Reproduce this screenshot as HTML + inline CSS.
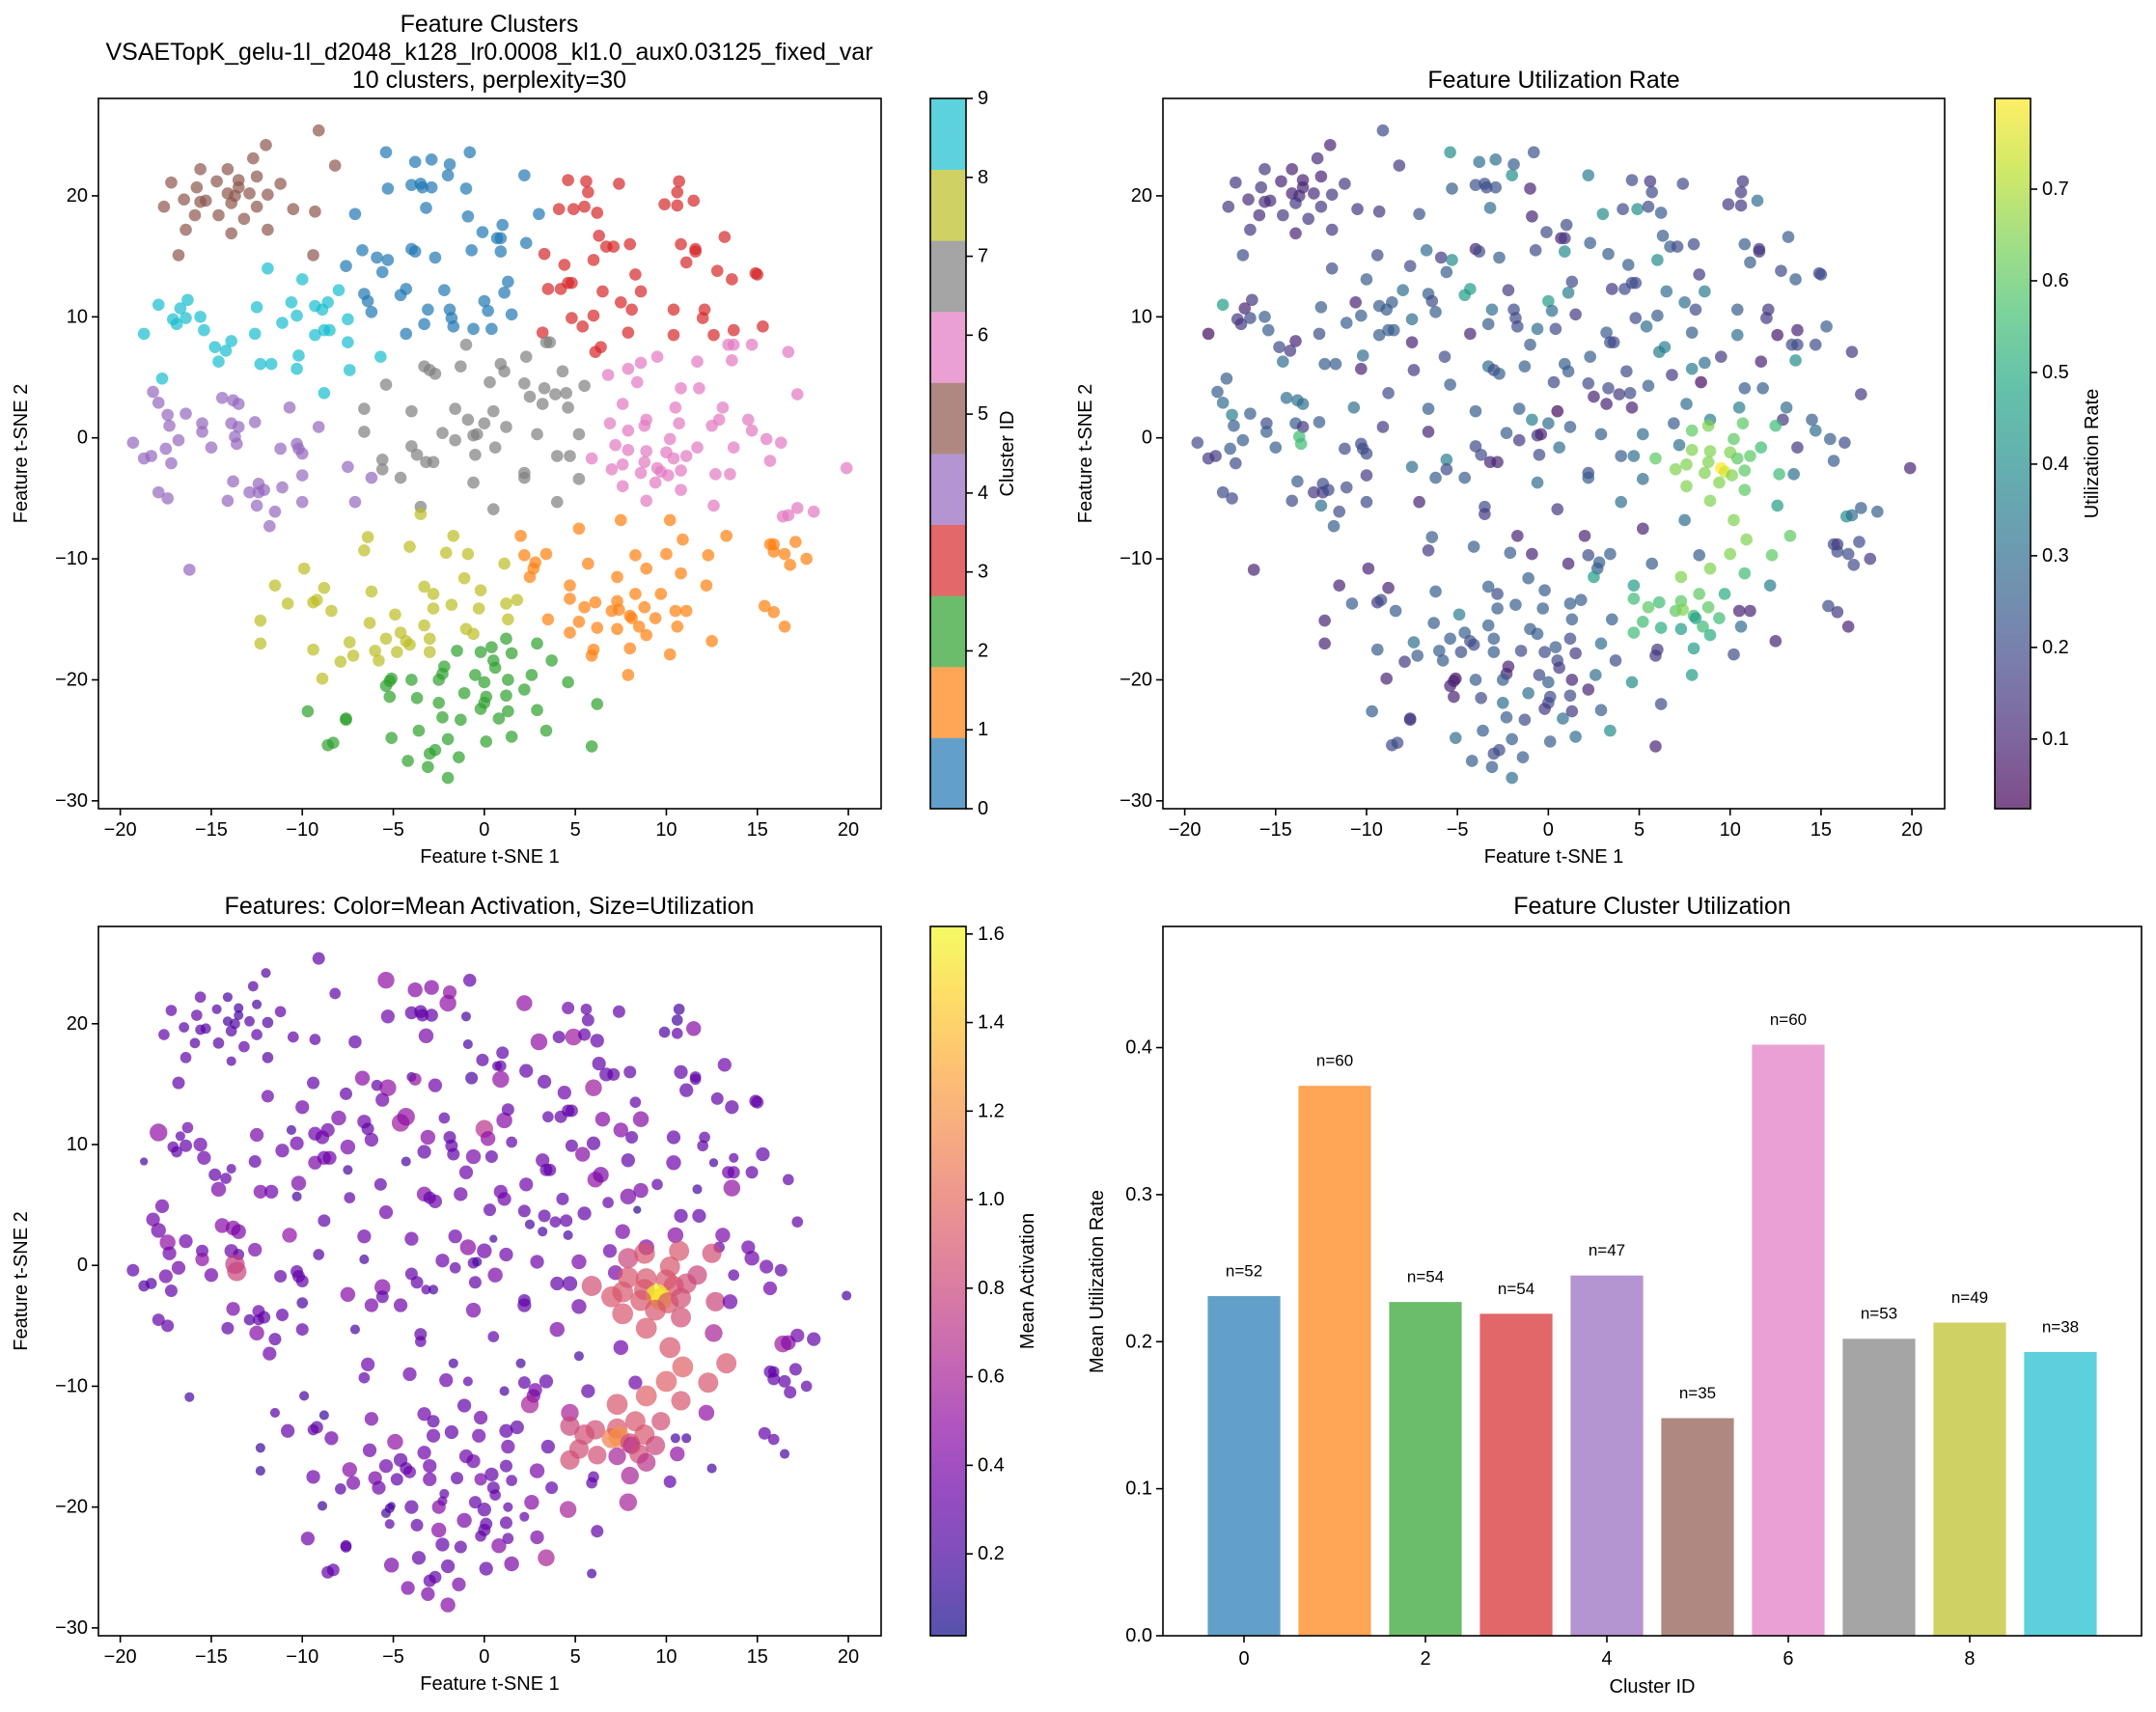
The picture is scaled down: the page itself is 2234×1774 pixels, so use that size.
<!DOCTYPE html>
<html><head><meta charset="utf-8"><style>
html,body{margin:0;padding:0;background:#fff}
svg{display:block;font-family:"Liberation Sans","DejaVu Sans",sans-serif}
</style></head><body>
<svg id="fig" width="2234" height="1774" viewBox="0 0 2234 1774" xmlns="http://www.w3.org/2000/svg"></svg>
<script>
// ---- data: [tsneX, tsneY, utilization, meanActivation] per cluster ----
const cluster0Points=[[-5.4,23.6,0.4,0.5],[-3.8,22.8,0.3,0.45],[-2.9,23.0,0.3,0.45],[-1.9,22.6,0.25,0.5],[-0.8,23.6,0.22,0.3],[-5.3,20.6,0.25,0.35],[-4.0,20.9,0.22,0.3],[-3.5,21.0,0.22,0.3],[-3.4,20.7,0.2,0.3],[-2.9,20.7,0.22,0.3],[-2.0,21.7,0.4,0.5],[-1.0,20.6,0.1,0.2],[-3.2,19.0,0.3,0.4],[-7.1,18.5,0.22,0.3],[-0.9,18.3,0.1,0.2],[2.2,21.7,0.35,0.5],[3.0,18.5,0.4,0.5],[-0.1,17.0,0.2,0.3],[0.7,16.5,0.1,0.3],[0.9,16.5,0.15,0.3],[1.0,17.6,0.2,0.3],[2.3,16.1,0.25,0.3],[-0.7,15.5,0.2,0.2],[0.9,15.4,0.4,0.5],[-2.7,14.9,0.25,0.35],[-4.0,15.6,0.1,0.2],[-3.8,15.4,0.2,0.5],[-6.7,15.5,0.3,0.45],[-7.6,14.2,0.2,0.3],[-5.9,14.9,0.15,0.3],[-5.3,14.7,0.4,0.5],[-5.6,13.7,0.25,0.35],[-6.6,11.9,0.25,0.35],[-6.4,11.3,0.2,0.3],[-6.2,10.4,0.25,0.35],[-4.6,11.8,0.45,0.55],[-4.3,12.3,0.45,0.5],[-2.2,12.2,0.15,0.3],[-3.1,10.6,0.3,0.45],[-1.9,10.6,0.2,0.3],[-1.8,9.9,0.2,0.3],[-1.7,9.2,0.2,0.3],[-4.3,8.6,0.1,0.2],[-3.3,9.4,0.25,0.3],[-0.6,9.0,0.3,0.4],[0.0,11.3,0.45,0.7],[0.2,10.5,0.3,0.5],[0.4,9.0,0.2,0.3],[1.1,12.0,0.35,0.45],[1.3,12.9,0.2,0.3],[1.5,10.2,0.15,0.3]];
const cluster1Points=[[5.2,-7.5,0.1,0.2],[7.5,-6.8,0.3,0.35],[10.2,-6.8,0.65,0.9],[2.0,-8.1,0.1,0.2],[10.9,-8.4,0.65,0.95],[13.3,-8.1,0.6,0.9],[2.2,-9.7,0.2,0.3],[2.8,-10.3,0.25,0.4],[2.7,-10.8,0.25,0.4],[3.4,-9.6,0.25,0.3],[2.5,-11.5,0.45,0.6],[5.7,-10.4,0.25,0.3],[8.3,-9.7,0.25,0.35],[10.0,-9.6,0.65,0.95],[8.9,-10.8,0.65,0.95],[10.8,-11.2,0.55,0.9],[12.3,-9.7,0.6,0.9],[7.3,-11.5,0.65,0.9],[4.7,-12.2,0.45,0.6],[12.2,-12.2,0.35,0.5],[15.7,-8.8,0.2,0.3],[15.9,-8.8,0.15,0.3],[15.9,-9.4,0.2,0.3],[16.5,-9.6,0.2,0.3],[16.8,-10.5,0.2,0.3],[17.1,-8.6,0.2,0.3],[17.7,-10.0,0.15,0.3],[4.7,-13.3,0.55,0.8],[5.5,-14.0,0.6,0.85],[6.1,-13.6,0.55,0.85],[7.0,-14.3,0.6,1.1],[7.3,-13.5,0.6,0.9],[7.4,-14.2,0.65,1.2],[8.3,-12.9,0.6,0.9],[8.0,-14.7,0.55,0.8],[8.1,-14.9,0.45,0.7],[8.8,-14.0,0.6,0.9],[8.5,-15.6,0.55,0.85],[9.4,-14.9,0.55,0.8],[9.7,-12.9,0.5,0.85],[10.5,-14.3,0.1,0.2],[11.1,-14.3,0.1,0.2],[3.5,-15.0,0.25,0.3],[5.2,-15.2,0.55,0.85],[4.7,-16.1,0.55,0.85],[6.2,-15.7,0.5,0.85],[7.3,-15.8,0.45,0.6],[8.9,-16.3,0.5,0.7],[10.6,-15.6,0.3,0.5],[12.5,-16.8,0.1,0.2],[6.0,-17.5,0.15,0.3],[5.9,-18.0,0.15,0.3],[8.0,-17.4,0.45,0.6],[10.2,-17.9,0.2,0.3],[7.9,-19.6,0.45,0.6],[15.4,-13.9,0.2,0.3],[15.9,-14.4,0.15,0.3],[16.5,-15.6,0.1,0.2]];
const cluster2Points=[[-1.5,-17.6,0.2,0.3],[-0.2,-17.7,0.2,0.4],[0.4,-17.3,0.25,0.3],[1.2,-16.6,0.2,0.3],[1.5,-17.8,0.15,0.3],[2.9,-17.0,0.3,0.4],[3.7,-18.4,0.2,0.3],[0.5,-18.4,0.2,0.3],[0.6,-19.0,0.15,0.3],[-2.2,-18.9,0.1,0.3],[-2.3,-19.5,0.1,0.3],[-2.5,-20.0,0.25,0.45],[-4.0,-20.0,0.25,0.3],[-5.1,-19.9,0.05,0.2],[-5.2,-20.1,0.1,0.2],[-5.4,-20.5,0.1,0.2],[-5.2,-21.4,0.1,0.3],[-3.7,-21.5,0.2,0.3],[-0.5,-19.6,0.2,0.3],[0.0,-20.2,0.25,0.3],[1.3,-20.0,0.1,0.3],[2.6,-19.6,0.3,0.45],[2.2,-20.8,0.1,0.3],[4.6,-20.2,0.4,0.6],[-2.5,-21.9,0.3,0.45],[-1.1,-21.1,0.3,0.4],[0.1,-21.4,0.2,0.3],[0.0,-21.9,0.2,0.3],[-0.2,-22.4,0.15,0.3],[1.2,-21.3,0.2,0.3],[1.3,-22.6,0.15,0.3],[0.8,-23.2,0.3,0.45],[2.9,-22.5,0.25,0.4],[-2.3,-23.1,0.25,0.3],[-1.3,-23.3,0.2,0.3],[-9.7,-22.6,0.25,0.35],[-7.6,-23.2,0.15,0.3],[-7.6,-23.3,0.15,0.3],[-8.6,-25.4,0.2,0.3],[-8.3,-25.2,0.2,0.3],[-5.1,-24.8,0.3,0.4],[-3.6,-24.2,0.25,0.3],[-2.0,-24.9,0.25,0.3],[0.1,-25.1,0.25,0.3],[1.5,-24.7,0.3,0.4],[3.4,-24.2,0.4,0.6],[6.2,-22.0,0.2,0.3],[5.9,-25.5,0.1,0.2],[-4.2,-26.7,0.25,0.4],[-3.0,-26.1,0.2,0.3],[-2.7,-25.8,0.2,0.3],[-3.1,-27.2,0.25,0.4],[-1.4,-26.4,0.25,0.4],[-2.0,-28.1,0.3,0.45]];
const cluster3Points=[[4.6,21.3,0.2,0.35],[5.6,21.2,0.15,0.3],[5.7,20.3,0.2,0.3],[7.4,21.0,0.2,0.3],[10.7,21.2,0.15,0.2],[10.6,20.3,0.15,0.2],[9.9,19.3,0.15,0.2],[10.6,19.2,0.15,0.3],[11.5,19.6,0.3,0.45],[4.1,18.9,0.2,0.3],[4.9,18.9,0.4,0.55],[5.5,19.1,0.2,0.3],[6.2,18.6,0.25,0.3],[6.3,16.7,0.25,0.3],[6.7,15.8,0.25,0.3],[7.1,15.8,0.2,0.3],[8.0,16.0,0.2,0.3],[6.0,14.7,0.4,0.55],[3.3,15.2,0.25,0.3],[4.4,14.3,0.25,0.35],[10.8,16.0,0.25,0.3],[11.6,15.6,0.15,0.3],[11.6,15.4,0.15,0.3],[11.1,14.5,0.25,0.3],[13.2,16.6,0.25,0.35],[12.8,13.8,0.2,0.3],[13.6,13.1,0.25,0.3],[14.9,13.6,0.2,0.3],[15.0,13.5,0.2,0.3],[8.3,13.5,0.15,0.3],[3.5,12.3,0.15,0.3],[4.2,12.3,0.2,0.3],[4.6,12.8,0.2,0.3],[4.8,12.8,0.2,0.3],[6.5,12.1,0.3,0.45],[7.5,11.2,0.3,0.45],[8.6,12.1,0.35,0.45],[8.1,10.6,0.2,0.3],[4.8,9.9,0.2,0.3],[5.4,9.2,0.3,0.45],[6.0,10.1,0.25,0.3],[3.2,8.7,0.25,0.35],[6.1,7.1,0.35,0.5],[6.4,7.5,0.35,0.4],[7.9,8.7,0.25,0.3],[10.4,10.6,0.25,0.3],[12.1,10.6,0.15,0.3],[12.0,9.9,0.15,0.3],[10.4,8.5,0.3,0.35],[12.6,8.5,0.08,0.2],[13.7,8.9,0.1,0.3],[15.3,9.2,0.25,0.3]];
const cluster4Points=[[-18.2,3.8,0.25,0.35],[-17.9,2.9,0.3,0.35],[-16.4,2.0,0.25,0.35],[-17.4,1.9,0.35,0.5],[-17.3,1.0,0.25,0.35],[-19.3,-0.4,0.2,0.3],[-18.7,-1.7,0.15,0.25],[-18.3,-1.5,0.15,0.25],[-17.5,-0.9,0.25,0.35],[-17.2,-2.1,0.2,0.3],[-16.8,-0.2,0.25,0.35],[-17.9,-4.5,0.2,0.3],[-17.4,-5.0,0.2,0.3],[-15.5,1.2,0.2,0.3],[-15.5,0.5,0.25,0.5],[-15.0,-0.8,0.25,0.35],[-14.4,3.3,0.3,0.45],[-13.8,3.1,0.3,0.45],[-13.5,2.8,0.3,0.4],[-13.9,1.2,0.25,0.35],[-13.5,0.9,0.15,0.3],[-13.7,0.1,0.55,0.75],[-13.6,-0.5,0.55,0.8],[-12.6,1.3,0.25,0.4],[-13.8,-3.6,0.25,0.4],[-14.1,-5.2,0.2,0.3],[-12.9,-4.5,0.15,0.25],[-12.4,-3.8,0.2,0.35],[-12.4,-4.5,0.15,0.3],[-12.1,-4.3,0.2,0.3],[-12.5,-5.6,0.3,0.45],[-11.8,-7.3,0.25,0.35],[-11.5,-6.1,0.2,0.3],[-11.1,-4.1,0.2,0.3],[-11.2,-0.9,0.2,0.3],[-10.7,2.5,0.3,0.5],[-10.3,-0.5,0.2,0.3],[-10.2,-0.9,0.2,0.3],[-10.0,-1.3,0.2,0.3],[-10.0,-3.1,0.15,0.2],[-10.0,-5.3,0.2,0.3],[-9.1,0.9,0.15,0.25],[-16.2,-10.9,0.1,0.2],[-7.5,-2.4,0.3,0.45],[-6.2,-3.3,0.25,0.4],[-7.1,-5.3,0.1,0.2]];
const cluster5Points=[[-17.2,21.1,0.15,0.3],[-17.6,19.1,0.15,0.3],[-16.5,19.7,0.12,0.25],[-16.8,15.1,0.2,0.3],[-16.4,17.2,0.15,0.3],[-15.9,18.4,0.12,0.25],[-15.8,20.7,0.15,0.3],[-15.6,22.2,0.15,0.3],[-15.6,19.5,0.12,0.25],[-15.3,19.6,0.12,0.25],[-14.7,21.2,0.1,0.25],[-14.6,18.4,0.15,0.25],[-14.1,22.2,0.1,0.2],[-14.1,20.2,0.1,0.2],[-13.9,19.4,0.15,0.25],[-13.9,16.9,0.1,0.25],[-13.7,20.0,0.12,0.25],[-13.5,21.3,0.1,0.2],[-13.5,20.7,0.1,0.2],[-13.2,18.1,0.15,0.3],[-12.9,20.2,0.12,0.25],[-12.7,23.1,0.12,0.25],[-12.5,21.6,0.1,0.2],[-12.5,19.1,0.15,0.3],[-12.0,24.2,0.1,0.25],[-11.9,20.1,0.15,0.25],[-11.9,17.2,0.15,0.25],[-11.2,21.0,0.15,0.3],[-10.5,18.9,0.15,0.3],[-9.3,18.7,0.15,0.3],[-9.1,25.4,0.2,0.3],[-8.2,22.5,0.15,0.3],[-9.4,15.1,0.2,0.3]];
const cluster6Points=[[16.7,7.1,0.15,0.3],[14.7,7.7,0.2,0.3],[13.7,7.7,0.2,0.35],[13.4,7.7,0.2,0.35],[13.6,6.4,0.4,0.5],[9.5,6.7,0.15,0.3],[8.6,6.2,0.3,0.4],[11.7,6.3,0.1,0.2],[7.9,5.7,0.35,0.4],[6.8,5.2,0.15,0.3],[8.4,4.6,0.05,0.1],[10.8,4.1,0.25,0.3],[11.8,4.1,0.25,0.3],[17.2,3.6,0.15,0.3],[7.6,2.8,0.3,0.4],[10.5,2.5,0.35,0.45],[13.1,2.5,0.3,0.4],[8.9,1.5,0.35,0.45],[6.9,1.2,0.25,0.35],[7.9,0.6,0.6,0.8],[8.8,1.0,0.65,0.9],[10.7,1.2,0.6,0.9],[12.9,1.5,0.15,0.3],[12.5,1.0,0.55,0.85],[14.5,1.5,0.25,0.35],[14.7,0.6,0.3,0.35],[15.5,-0.1,0.25,0.35],[16.3,-0.4,0.2,0.3],[10.2,-0.1,0.6,0.9],[7.2,-0.6,0.3,0.4],[7.9,-1.0,0.65,0.9],[8.9,-1.1,0.65,0.9],[10.0,-1.2,0.65,0.9],[10.4,-1.7,0.6,0.9],[11.1,-1.5,0.6,0.85],[11.7,-0.8,0.55,0.8],[13.7,-0.8,0.15,0.3],[5.9,-1.7,0.6,0.85],[7.6,-2.2,0.65,0.9],[8.8,-2.0,0.65,0.9],[9.5,-2.5,0.8,1.6],[9.7,-2.8,0.75,1.5],[7.0,-2.6,0.65,0.9],[8.6,-2.9,0.65,0.9],[10.1,-3.1,0.65,0.9],[10.8,-2.7,0.6,0.85],[12.7,-3.0,0.55,0.8],[13.5,-3.0,0.3,0.35],[15.7,-1.9,0.25,0.35],[19.9,-2.5,0.1,0.2],[7.6,-4.0,0.65,0.9],[9.4,-3.7,0.65,0.9],[10.8,-4.3,0.6,0.85],[8.9,-5.2,0.65,0.9],[12.6,-5.6,0.45,0.6],[16.4,-6.5,0.4,0.55],[16.7,-6.4,0.3,0.45],[17.2,-5.8,0.25,0.35],[18.1,-6.1,0.25,0.3]];
const cluster7Points=[[-1.0,7.7,0.25,0.35],[-3.3,5.9,0.3,0.45],[-3.0,5.6,0.2,0.3],[-2.7,5.3,0.25,0.35],[-1.3,5.9,0.25,0.35],[0.9,6.1,0.25,0.35],[1.1,5.5,0.25,0.35],[0.3,4.6,0.2,0.3],[2.3,6.7,0.25,0.35],[2.2,4.5,0.2,0.3],[3.4,7.9,0.2,0.3],[3.6,7.9,0.2,0.3],[4.3,5.5,0.2,0.3],[5.5,4.3,0.25,0.3],[3.3,4.1,0.2,0.3],[3.9,3.6,0.15,0.3],[4.5,3.7,0.2,0.3],[2.5,3.4,0.1,0.2],[3.2,2.8,0.1,0.2],[4.6,2.5,0.1,0.2],[-5.4,4.4,0.25,0.35],[-6.6,2.4,0.25,0.35],[-4.0,2.2,0.25,0.35],[-1.6,2.4,0.25,0.35],[0.5,2.2,0.05,0.2],[-0.9,1.5,0.35,0.45],[0.0,1.2,0.3,0.35],[1.2,0.9,0.25,0.35],[-2.3,0.4,0.25,0.35],[-0.6,0.2,0.15,0.3],[-0.4,0.3,0.1,0.2],[2.9,0.3,0.25,0.35],[5.2,0.3,0.3,0.4],[-6.6,0.5,0.1,0.2],[-1.6,-0.2,0.15,0.3],[-4.0,-0.7,0.2,0.3],[-3.7,-1.4,0.2,0.3],[-3.2,-2.0,0.1,0.3],[-2.8,-2.0,0.1,0.2],[-5.6,-1.8,0.35,0.45],[-5.6,-2.6,0.2,0.3],[-4.6,-3.3,0.25,0.35],[-0.5,-1.4,0.2,0.3],[0.6,-0.8,0.3,0.4],[2.2,-2.9,0.2,0.3],[2.2,-3.3,0.25,0.3],[4.0,-1.5,0.25,0.3],[4.7,-1.5,0.3,0.3],[5.2,-3.4,0.3,0.35],[-0.6,-3.7,0.3,0.4],[4.0,-5.3,0.3,0.4],[-3.5,-5.7,0.2,0.3],[0.5,-5.9,0.15,0.3]];
const cluster8Points=[[-3.5,-6.3,0.15,0.3],[-6.4,-8.2,0.25,0.35],[-6.6,-9.3,0.15,0.3],[-4.1,-9.0,0.25,0.35],[-1.7,-8.1,0.1,0.2],[-2.1,-9.5,0.25,0.35],[-0.9,-9.6,0.1,0.3],[1.1,-10.4,0.1,0.2],[-9.9,-10.8,0.1,0.2],[-11.5,-12.2,0.1,0.25],[-10.8,-13.7,0.25,0.3],[-9.4,-13.6,0.15,0.3],[-9.2,-13.4,0.2,0.3],[-8.8,-12.4,0.1,0.15],[-8.4,-14.3,0.25,0.35],[-12.3,-15.1,0.1,0.15],[-12.3,-17.0,0.1,0.15],[-9.4,-17.5,0.25,0.35],[-8.9,-19.9,0.1,0.15],[-7.9,-18.5,0.15,0.25],[-7.4,-16.9,0.3,0.45],[-7.2,-18.0,0.25,0.4],[-6.2,-12.7,0.25,0.4],[-6.3,-15.3,0.25,0.35],[-6.0,-17.6,0.25,0.4],[-5.8,-18.4,0.25,0.35],[-4.9,-14.6,0.35,0.5],[-5.4,-16.6,0.25,0.35],[-4.8,-17.7,0.2,0.3],[-4.3,-16.8,0.2,0.3],[-4.1,-17.1,0.2,0.35],[-4.6,-16.1,0.25,0.3],[-3.0,-16.6,0.25,0.35],[-3.0,-17.7,0.25,0.35],[-3.3,-12.3,0.25,0.35],[-2.8,-12.9,0.2,0.3],[-2.8,-14.1,0.25,0.35],[-3.3,-15.5,0.25,0.35],[-1.8,-13.8,0.25,0.3],[-1.1,-11.6,0.25,0.3],[-1.0,-15.8,0.25,0.35],[-0.6,-16.2,0.25,0.35],[-0.3,-14.1,0.25,0.35],[-0.2,-12.6,0.25,0.35],[1.2,-13.7,0.25,0.3],[1.8,-13.4,0.25,0.3],[1.3,-15.0,0.25,0.35]];
const cluster9Points=[[-17.9,11.0,0.45,0.5],[-18.7,8.6,0.05,0.2],[-17.1,9.8,0.15,0.3],[-16.9,9.4,0.15,0.3],[-16.7,10.7,0.1,0.3],[-16.3,11.4,0.15,0.35],[-16.4,9.9,0.2,0.3],[-15.6,10.0,0.25,0.35],[-15.4,8.9,0.25,0.35],[-14.8,7.5,0.2,0.3],[-14.6,6.3,0.3,0.4],[-14.2,7.2,0.15,0.3],[-13.9,8.0,0.1,0.3],[-17.7,4.9,0.25,0.35],[-12.5,10.8,0.25,0.4],[-12.6,8.6,0.2,0.3],[-11.9,14.0,0.2,0.35],[-12.3,6.1,0.25,0.4],[-11.7,6.1,0.25,0.35],[-11.1,9.5,0.25,0.35],[-10.6,11.2,0.1,0.2],[-10.3,10.1,0.25,0.35],[-10.0,13.1,0.25,0.35],[-10.2,6.8,0.3,0.4],[-10.3,5.7,0.1,0.2],[-9.3,10.9,0.25,0.35],[-8.9,10.6,0.25,0.35],[-8.6,11.2,0.25,0.35],[-8.0,12.2,0.3,0.4],[-9.3,8.5,0.25,0.4],[-8.8,8.9,0.25,0.35],[-8.5,8.9,0.25,0.35],[-7.5,9.8,0.3,0.4],[-7.5,7.9,0.1,0.2],[-7.4,5.6,0.15,0.3],[-8.8,3.7,0.2,0.3],[-5.7,6.7,0.2,0.3]];
const clusterIds=[0,1,2,3,4,5,6,7,8,9];
const clusterMeanUtil=[0.231,0.374,0.227,0.219,0.245,0.148,0.402,0.202,0.213,0.193];
const clusterCounts=[52,60,54,54,47,35,60,53,49,38];
const xTicks=[-20,-15,-10,-5,0,5,10,15,20];
const yTicks=[-30,-20,-10,0,10,20];
const utilTicks=[0.1,0.2,0.3,0.4,0.5,0.6,0.7];
const actTicks=[0.2,0.4,0.6,0.8,1.0,1.2,1.4,1.6];
const barYTicks=[0.0,0.1,0.2,0.3,0.4];

const allClusters=[cluster0Points,cluster1Points,cluster2Points,cluster3Points,cluster4Points,cluster5Points,cluster6Points,cluster7Points,cluster8Points,cluster9Points];
const tab10=['#1f77b4','#ff7f0e','#2ca02c','#d62728','#9467bd','#8c564b','#e377c2','#7f7f7f','#bcbd22','#17becf'];
const viridis=['#440154','#482475','#414487','#355f8d','#2a788e','#21918c','#22a884','#44bf70','#7ad151','#bddf26','#fde725'];
const plasma=['#0d0887','#41049d','#6a00a8','#8f0da4','#b12a90','#cc4778','#e16462','#f2844b','#fca636','#fcce25','#f0f921'];
function hex(h){return [parseInt(h.slice(1,3),16),parseInt(h.slice(3,5),16),parseInt(h.slice(5,7),16)];}
function cmapRGB(stops,t){t=Math.max(0,Math.min(1,t));const p=t*(stops.length-1);const i=Math.min(stops.length-2,Math.floor(p));const f=p-i;const a=hex(stops[i]),b=hex(stops[i+1]);return a.map((v,k)=>v+(b[k]-v)*f);}
function rgb(c){return 'rgb('+c.map(v=>Math.round(v)).join(',')+')';}
function cmap(stops,t){return rgb(cmapRGB(stops,t));}
function faded(c){return rgb(c.map(v=>v*0.7+255*0.3));}

const NS='http://www.w3.org/2000/svg';
const svg=document.getElementById('fig');
function el(tag,attrs,parent){const e=document.createElementNS(NS,tag);for(const k in attrs)e.setAttribute(k,attrs[k]);(parent||svg).appendChild(e);return e;}
function txt(s,x,y,size,anchor,parent,rot){const t=el('text',{x:x,y:y,'font-size':size,'text-anchor':anchor||'middle','dominant-baseline':'central',fill:'#000'},parent);if(rot)t.setAttribute('transform','rotate('+rot+' '+x+' '+y+')');t.textContent=s;return t;}

const XL=[-21.2,21.8],YL=[-30.65,28.05];
function scatterPanel(name,box,colorFn,sizeFn,xlabel,ylabel){
  const g=el('g',{});
  
  
  const sx=v=>box.x0+(v-XL[0])/(XL[1]-XL[0])*(box.x1-box.x0);
  const sy=v=>box.y1-(v-YL[0])/(YL[1]-YL[0])*(box.y1-box.y0);
  const clip='clip-'+name;
  const cp=el('clipPath',{id:clip},g);el('rect',{x:box.x0,y:box.y0,width:box.x1-box.x0,height:box.y1-box.y0},cp);
  const pg=el('g',{'clip-path':'url(#'+clip+')'},g);
  allClusters.forEach((pts,c)=>pts.forEach(p=>{
    const m=el('circle',{cx:sx(p[0]),cy:sy(p[1]),r:sizeFn(p),fill:colorFn(p,c),'fill-opacity':0.7},pg);
    
    
  }));
  const fr=el('rect',{x:box.x0,y:box.y0,width:box.x1-box.x0,height:box.y1-box.y0,fill:'none',stroke:'#000','stroke-width':1.6},g);
  
  
  xTicks.forEach(v=>{const x=sx(v);el('line',{x1:x,x2:x,y1:box.y1,y2:box.y1+7,stroke:'#000','stroke-width':1.6},g);const t=txt(v<0?'\u2212'+(-v):''+v,x,box.y1+22,20,'middle',g);});
  yTicks.forEach(v=>{const y=sy(v);el('line',{x1:box.x0-7,x2:box.x0,y1:y,y2:y,stroke:'#000','stroke-width':1.6},g);const t=txt(v<0?'\u2212'+(-v):''+v,box.x0-11,y,20,'end',g);});
  const xl=txt(xlabel,(box.x0+box.x1)/2,box.y1+50,20,'middle',g);
  
  
  const yl=txt(ylabel,box.x0-80,(box.y0+box.y1)/2,20,'middle',g,-90);
  
  
}
function colorbar(name,box,rgbFn,ticks,lo,hi,label,fmt,labelX){
  const g=el('g',{});
  
  
  const N=150,h=(box.y1-box.y0)/N;
  for(let i=0;i<N;i++){const v=lo+(i+0.5)/N*(hi-lo);el('rect',{x:box.x0,y:box.y1-(i+1)*h-0.4,width:box.x1-box.x0,height:h+0.8,fill:faded(rgbFn(v))},g);}
  el('rect',{x:box.x0,y:box.y0,width:box.x1-box.x0,height:box.y1-box.y0,fill:'none',stroke:'#000','stroke-width':1.6},g);
  ticks.forEach(v=>{const y=box.y1-(v-lo)/(hi-lo)*(box.y1-box.y0);el('line',{x1:box.x1,x2:box.x1+7,y1:y,y2:y,stroke:'#000','stroke-width':1.6},g);const t=txt(fmt(v),box.x1+12,y,20,'start',g);});
  const l=txt(label,labelX,(box.y0+box.y1)/2,20,'middle',g,-90);
  
  
}
function title(lines,cx,y0,name){lines.forEach((s,i)=>{const t=txt(s,cx,y0+i*29,25,'middle');});}

// Panel 1
const B1={x0:102,x1:913,y0:102,y1:838};
scatterPanel('cluster-scatter',B1,(p,c)=>tab10[c],p=>6.3,'Feature t-SNE 1','Feature t-SNE 2');
colorbar('cluster-colorbar',{x0:964,x1:1001,y0:102,y1:838},v=>hex(tab10[Math.min(9,Math.floor(v/0.9))]),clusterIds,0,9,'Cluster ID',v=>''+v,1044);
title(['Feature Clusters','VSAETopK_gelu-1l_d2048_k128_lr0.0008_kl1.0_aux0.03125_fixed_var','10 clusters, perplexity=30'],507,25,'chart-title');

// Panel 2
const B2={x0:1205,x1:2015,y0:102,y1:838};
const UL=[0.024,0.799];
scatterPanel('utilization-scatter',B2,p=>cmap(viridis,(p[2]-UL[0])/(UL[1]-UL[0])),p=>6.3,'Feature t-SNE 1','Feature t-SNE 2');
colorbar('utilization-colorbar',{x0:2067,x1:2104,y0:102,y1:838},v=>cmapRGB(viridis,(v-UL[0])/(UL[1]-UL[0])),utilTicks,UL[0],UL[1],'Utilization Rate',v=>v.toFixed(1),2168);
title(['Feature Utilization Rate'],1610,83,'chart-title');

// Panel 3
const B3={x0:102,x1:913,y0:960,y1:1695};
const AL=[0.015,1.617];
scatterPanel('activation-scatter',B3,p=>cmap(plasma,(p[3]-AL[0])/(AL[1]-AL[0])),p=>Math.sqrt(8+p[2]*155)*150/72/2,'Feature t-SNE 1','Feature t-SNE 2');
colorbar('activation-colorbar',{x0:964,x1:1001,y0:960,y1:1695},v=>cmapRGB(plasma,(v-AL[0])/(AL[1]-AL[0])),actTicks,AL[0],AL[1],'Mean Activation',v=>v.toFixed(1),1065);
title(['Features: Color=Mean Activation, Size=Utilization'],507,939,'chart-title');

// Panel 4 bars
(function(){
  const B={x0:1205,x1:2219,y0:960,y1:1695};
  const XR=[-0.894,9.894],YR=[0,0.4824];
  const sx=v=>B.x0+(v-XR[0])/(XR[1]-XR[0])*(B.x1-B.x0);
  const sy=v=>B.y1-(v-YR[0])/(YR[1]-YR[0])*(B.y1-B.y0);
  const g=el('g',{});
  
  
  clusterIds.forEach((c,i)=>{
    const v=clusterMeanUtil[i];
    const r=el('rect',{x:sx(c-0.4),y:sy(v),width:sx(c+0.4)-sx(c-0.4),height:sy(0)-sy(v),fill:tab10[i],'fill-opacity':0.7},g);
    
    
    const t=txt('n='+clusterCounts[i],sx(c),sy(v)-26,17,'middle',g);
    
    
  });
  el('rect',{x:B.x0,y:B.y0,width:B.x1-B.x0,height:B.y1-B.y0,fill:'none',stroke:'#000','stroke-width':1.6},g);
  [0,2,4,6,8].forEach(v=>{const x=sx(v);el('line',{x1:x,x2:x,y1:B.y1,y2:B.y1+7,stroke:'#000','stroke-width':1.6},g);const t=txt(''+v,x,B.y1+24,20,'middle',g);});
  barYTicks.forEach(v=>{const y=sy(v);el('line',{x1:B.x0-7,x2:B.x0,y1:y,y2:y,stroke:'#000','stroke-width':1.6},g);const t=txt(v.toFixed(1),B.x0-11,y,20,'end',g);});
  const xl=txt('Cluster ID',(B.x0+B.x1)/2,1748,20,'middle',g);
  
  
  const yl=txt('Mean Utilization Rate',1137,1328,20,'middle',g,-90);
  
  
  title(['Feature Cluster Utilization'],1712,939,'chart-title');
})();
</script>
</body></html>
